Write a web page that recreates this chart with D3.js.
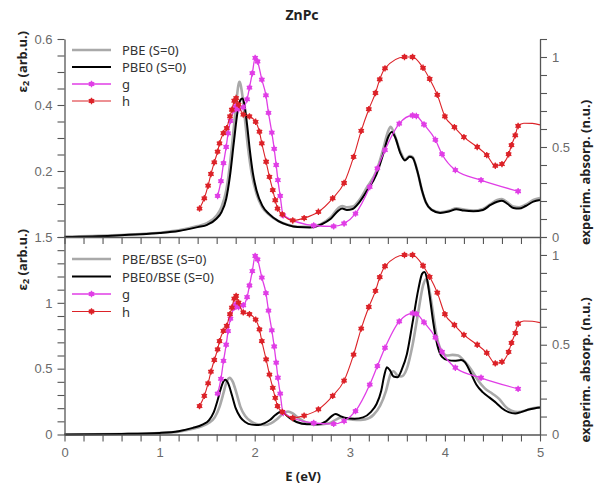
<!DOCTYPE html>
<html>
<head>
<meta charset="utf-8">
<script src="https://cdn.jsdelivr.net/npm/d3@7"></script>
<style>
  body { margin: 0; background: #fff; }
  svg { font-family: "Noto Sans", "Open Sans", sans-serif; }
</style>
</head>
<body>
<div id="chart"></div>
<script>
// ---- data ----
// theory, top panel (eps2, arb.u.)
const pbeTop = [[0,0.001],[0.5,0.005],[0.8,0.009],[1.0,0.013],[1.2,0.02],[1.4,0.033],[1.5,0.042],[1.6,0.065],[1.65,0.09],[1.7,0.14],[1.74,0.22],[1.78,0.33],[1.81,0.42],[1.84,0.47],[1.87,0.43],[1.9,0.35],[1.93,0.27],[1.97,0.19],[2.02,0.13],[2.08,0.09],[2.15,0.068],[2.25,0.048],[2.35,0.037],[2.45,0.031],[2.58,0.031],[2.7,0.04],[2.8,0.06],[2.88,0.088],[2.92,0.094],[2.97,0.09],[3.03,0.092],[3.1,0.112],[3.18,0.15],[3.28,0.2],[3.35,0.265],[3.4,0.318],[3.43,0.334],[3.47,0.31],[3.53,0.26],[3.58,0.235],[3.63,0.245],[3.66,0.242],[3.71,0.2],[3.76,0.14],[3.8,0.105],[3.86,0.083],[3.95,0.075],[4.05,0.08],[4.12,0.087],[4.2,0.083],[4.3,0.08],[4.4,0.085],[4.48,0.1],[4.55,0.112],[4.6,0.115],[4.66,0.104],[4.72,0.092],[4.78,0.09],[4.85,0.098],[4.93,0.112],[5.0,0.118]];
const pbe0Top = [[0,0],[0.5,0.004],[0.8,0.008],[1.0,0.012],[1.2,0.018],[1.4,0.03],[1.5,0.037],[1.6,0.056],[1.65,0.075],[1.7,0.115],[1.74,0.185],[1.78,0.285],[1.82,0.38],[1.85,0.415],[1.87,0.42],[1.89,0.405],[1.92,0.34],[1.95,0.26],[1.98,0.195],[2.02,0.14],[2.08,0.095],[2.15,0.07],[2.25,0.048],[2.35,0.036],[2.45,0.03],[2.58,0.029],[2.7,0.038],[2.8,0.055],[2.88,0.08],[2.92,0.086],[2.97,0.082],[3.03,0.085],[3.1,0.105],[3.18,0.14],[3.28,0.19],[3.35,0.25],[3.4,0.3],[3.44,0.318],[3.48,0.3],[3.53,0.255],[3.58,0.232],[3.63,0.243],[3.66,0.24],[3.71,0.2],[3.76,0.14],[3.8,0.105],[3.86,0.082],[3.95,0.073],[4.05,0.078],[4.12,0.084],[4.2,0.08],[4.3,0.078],[4.4,0.082],[4.48,0.097],[4.55,0.107],[4.6,0.11],[4.66,0.1],[4.72,0.088],[4.78,0.086],[4.85,0.094],[4.93,0.107],[5.0,0.112]];
// theory, bottom panel (BSE)
const pbeBse = [[0,0],[0.6,0.004],[1.0,0.011],[1.2,0.022],[1.35,0.043],[1.45,0.065],[1.52,0.09],[1.58,0.13],[1.63,0.21],[1.67,0.31],[1.7,0.39],[1.735,0.43],[1.77,0.4],[1.81,0.31],[1.85,0.21],[1.9,0.14],[1.96,0.1],[2.03,0.078],[2.1,0.072],[2.17,0.085],[2.24,0.12],[2.3,0.16],[2.35,0.175],[2.4,0.16],[2.46,0.125],[2.55,0.09],[2.66,0.075],[2.78,0.085],[2.86,0.115],[2.91,0.13],[2.97,0.12],[3.07,0.11],[3.16,0.115],[3.25,0.15],[3.32,0.22],[3.38,0.33],[3.43,0.46],[3.46,0.48],[3.5,0.45],[3.54,0.44],[3.6,0.5],[3.66,0.68],[3.72,0.93],[3.77,1.13],[3.8,1.18],[3.83,1.12],[3.87,0.95],[3.91,0.76],[3.96,0.64],[4.02,0.6],[4.08,0.605],[4.14,0.6],[4.2,0.56],[4.27,0.5],[4.34,0.42],[4.42,0.35],[4.5,0.31],[4.57,0.27],[4.64,0.21],[4.7,0.18],[4.77,0.17],[4.84,0.18],[4.92,0.2],[5.0,0.205]];
const pbe0Bse = [[0,0],[0.6,0.004],[1.0,0.012],[1.2,0.025],[1.35,0.05],[1.45,0.075],[1.52,0.11],[1.57,0.17],[1.61,0.26],[1.64,0.34],[1.67,0.4],[1.69,0.415],[1.72,0.39],[1.76,0.3],[1.8,0.2],[1.85,0.13],[1.9,0.095],[1.97,0.075],[2.04,0.072],[2.1,0.085],[2.16,0.11],[2.22,0.15],[2.27,0.17],[2.31,0.16],[2.36,0.13],[2.44,0.095],[2.55,0.078],[2.66,0.078],[2.75,0.1],[2.81,0.14],[2.85,0.155],[2.9,0.14],[2.96,0.125],[3.05,0.12],[3.14,0.13],[3.22,0.17],[3.28,0.23],[3.33,0.33],[3.36,0.44],[3.39,0.51],[3.42,0.49],[3.46,0.44],[3.5,0.435],[3.55,0.5],[3.6,0.61],[3.66,0.85],[3.72,1.1],[3.76,1.22],[3.785,1.235],[3.81,1.19],[3.84,1.05],[3.88,0.84],[3.92,0.68],[3.97,0.59],[4.03,0.565],[4.1,0.56],[4.17,0.565],[4.21,0.55],[4.27,0.47],[4.33,0.38],[4.4,0.32],[4.47,0.28],[4.54,0.24],[4.6,0.2],[4.67,0.17],[4.74,0.16],[4.8,0.17],[4.88,0.19],[4.95,0.2],[5.0,0.205]];
// experiment (n.u.), same in both panels
const gExp = [[1.61,0.228],[1.645,0.31],[1.672,0.41],[1.7,0.5],[1.72,0.576],[1.745,0.645],[1.78,0.705],[1.8,0.725],[1.83,0.71],[1.88,0.72],[1.92,0.765],[1.945,0.83],[1.975,0.91],[2.005,0.995],[2.03,0.975],[2.075,0.874],[2.118,0.787],[2.145,0.69],[2.18,0.58],[2.205,0.49],[2.226,0.4],[2.244,0.316],[2.268,0.228],[2.3,0.12],[2.62,0.064],[2.83,0.059],[2.94,0.075],[3.06,0.13],[3.21,0.278],[3.29,0.381],[3.37,0.483],[3.52,0.63],[3.66,0.675],[3.7,0.672],[3.78,0.625],[3.9,0.54],[3.97,0.46],[4.11,0.372],[4.38,0.316],[4.77,0.254]];
const hExp = [[1.42,0.158],[1.47,0.215],[1.51,0.285],[1.54,0.35],[1.575,0.415],[1.61,0.474],[1.63,0.52],[1.67,0.577],[1.705,0.605],[1.74,0.67],[1.76,0.707],[1.785,0.757],[1.805,0.772],[1.83,0.735],[1.88,0.68],[1.945,0.67],[2.01,0.64],[2.05,0.585],[2.075,0.52],[2.12,0.418],[2.155,0.334],[2.19,0.26],[2.216,0.204],[2.24,0.158],[2.29,0.126],[2.4,0.092],[2.52,0.105],[2.67,0.14],[2.82,0.215],[2.94,0.3],[3.04,0.445],[3.12,0.59],[3.2,0.71],[3.27,0.8],[3.315,0.876],[3.37,0.937],[3.575,1.0],[3.66,1.0],[3.77,0.94],[3.84,0.878],[3.92,0.79],[4.0,0.67],[4.1,0.61],[4.2,0.555],[4.34,0.5],[4.44,0.455],[4.53,0.396],[4.6,0.405],[4.67,0.46],[4.7,0.51],[4.74,0.565],[4.77,0.617]];
const hTail = [[4.83,0.632],[4.92,0.631],[5.0,0.623]];

const xTicks = [0, 1, 2, 3, 4, 5];
const leftTicksTop = [0.2, 0.4, 0.6];
const leftTicksBottom = [0, 0.5, 1, 1.5];
const rightTicks = [0, 0.5, 1];
const legendTop = ["PBE (S=0)", "PBE0 (S=0)", "g", "h"];
const legendBottom = ["PBE/BSE (S=0)", "PBE0/BSE (S=0)", "g", "h"];

// ---- layout ----
const width = 597, height = 486;
const x0 = 64.5, x1 = 540;
const panels = [
  { top: 39, bottom: 237, leftMax: 0.6, leftStep: 0.05, leftLabels: leftTicksTop, theo: [pbeTop, pbe0Top], names: legendTop, legY: 50, legDy: 17, xLabels: false },
  { top: 237, bottom: 434.5, leftMax: 1.5, leftStep: 0.1, leftLabels: leftTicksBottom, theo: [pbeBse, pbe0Bse], names: legendBottom, legY: 259, legDy: 17.5, xLabels: true }
];
const colors = { pbe: "#a9a9a9", pbe0: "#000", g: "#e03ee6", h: "#dc2228" };
const axisColor = "#555", labelColor = "#6a6a6a";

const svg = d3.select("#chart").append("svg")
  .attr("width", width).attr("height", height);

const x = d3.scaleLinear().domain([0, 5]).range([x0, x1]);

const hasLabel = (list) => (v) => list.some(t => Math.abs(t - v) < 1e-6) ? d3.format("~g")(v) : "";

// star-like marker: small filled dot with short spikes
function marker(g, cx, cy, color) {
  const m = g.append("g").attr("transform", `translate(${cx},${cy})`);
  m.append("circle").attr("r", 2.4).attr("fill", color);
  m.append("path").attr("d", d3.symbol(d3.symbolAsterisk, 28)())
    .attr("fill", "none").attr("stroke", color).attr("stroke-width", 1.3);
}

function styleAxis(sel) {
  sel.select(".domain").attr("stroke", axisColor).attr("stroke-width", 1.3);
  sel.selectAll(".tick line").attr("stroke", axisColor).attr("stroke-width", 1.1);
  sel.selectAll(".tick text").attr("fill", labelColor).style("font-size", "13px");
}

panels.forEach((p) => {
  const yL = d3.scaleLinear().domain([0, p.leftMax]).range([p.bottom, p.top]);
  const yR = d3.scaleLinear().domain([0, 1.1]).range([p.bottom, p.top]);
  const g = svg.append("g");

  // theory curves
  const lineL = d3.line().x(d => x(d[0])).y(d => yL(d[1])).curve(d3.curveMonotoneX);
  g.append("path").attr("d", lineL(p.theo[0])).attr("fill", "none")
    .attr("stroke", colors.pbe).attr("stroke-width", 2.6);
  g.append("path").attr("d", lineL(p.theo[1])).attr("fill", "none")
    .attr("stroke", colors.pbe0).attr("stroke-width", 2);

  // experiment
  const lineR = d3.line().x(d => x(d[0])).y(d => yR(d[1])).curve(d3.curveMonotoneX);
  g.append("path").attr("d", lineR(gExp)).attr("fill", "none")
    .attr("stroke", colors.g).attr("stroke-width", 1.3);
  gExp.forEach(d => marker(g, x(d[0]), yR(d[1]), colors.g));
  g.append("path").attr("d", lineR(hExp.concat(hTail))).attr("fill", "none")
    .attr("stroke", colors.h).attr("stroke-width", 1.1);
  hExp.forEach(d => marker(g, x(d[0]), yR(d[1]), colors.h));

  // axes
  const leftVals = d3.range(0, Math.round(p.leftMax / p.leftStep) + 1).map(i => i * p.leftStep);
  const ax = g.append("g").attr("transform", `translate(${x0},0)`)
    .call(d3.axisLeft(yL).tickValues(leftVals).tickSize(7).tickSizeOuter(0).tickPadding(5)
      .tickFormat(hasLabel(p.leftLabels)));
  styleAxis(ax);

  const rightVals = d3.range(0, 12).map(i => i * 0.1);
  const ar = g.append("g").attr("transform", `translate(${x1},0)`)
    .call(d3.axisRight(yR).tickValues(rightVals).tickSize(7).tickSizeOuter(0).tickPadding(5)
      .tickFormat(hasLabel(rightTicks)));
  styleAxis(ar);

  const xVals = d3.range(0, 26).map(i => i * 0.2);
  const axb = g.append("g").attr("transform", `translate(0,${p.bottom})`)
    .call(d3.axisBottom(x).tickValues(xVals).tickSize(7).tickSizeOuter(0).tickPadding(6)
      .tickFormat(p.xLabels ? hasLabel(xTicks) : () => ""));
  styleAxis(axb);

  // axis titles
  const tL = g.append("text").attr("transform", `translate(22,${p.top - 8}) rotate(-90)`)
    .attr("text-anchor", "end").attr("dominant-baseline", "central")
    .style("font-size", "13px").style("font-weight", "bold").attr("fill", "#222");
  tL.append("tspan").text("ε");
  tL.append("tspan").text("2").attr("dy", 3).style("font-size", "9px");
  tL.append("tspan").text(" (arb.u.)").attr("dy", -3);

  g.append("text").attr("transform", `translate(585,${p.bottom + 8}) rotate(-90)`)
    .attr("text-anchor", "start").attr("dominant-baseline", "central")
    .style("font-size", "13px").style("font-weight", "bold").attr("fill", "#222")
    .text("experim. absorp. (n.u.)");

  // legend
  const leg = g.append("g");
  const legColors = [colors.pbe, colors.pbe0, colors.g, colors.h];
  const legWidths = [2.6, 2, 1.3, 1.1];
  p.names.forEach((name, i) => {
    const ly = p.legY + i * p.legDy;
    leg.append("line").attr("x1", 72).attr("x2", 111).attr("y1", ly).attr("y2", ly)
      .attr("stroke", legColors[i]).attr("stroke-width", legWidths[i]);
    if (i >= 2) marker(leg, 91.5, ly, legColors[i]);
    leg.append("text").attr("x", 122).attr("y", ly).attr("dominant-baseline", "central")
      .style("font-size", "13px").attr("fill", "#333").text(name);
  });
});

svg.append("text").attr("x", 302).attr("y", 20).attr("text-anchor", "middle")
  .style("font-size", "14px").style("font-weight", "bold").attr("fill", "#222").text("ZnPc");

svg.append("text").attr("x", 303).attr("y", 481).attr("text-anchor", "middle")
  .style("font-size", "13px").style("font-weight", "bold").attr("fill", "#222").text("E (eV)");
</script>
</body>
</html>
